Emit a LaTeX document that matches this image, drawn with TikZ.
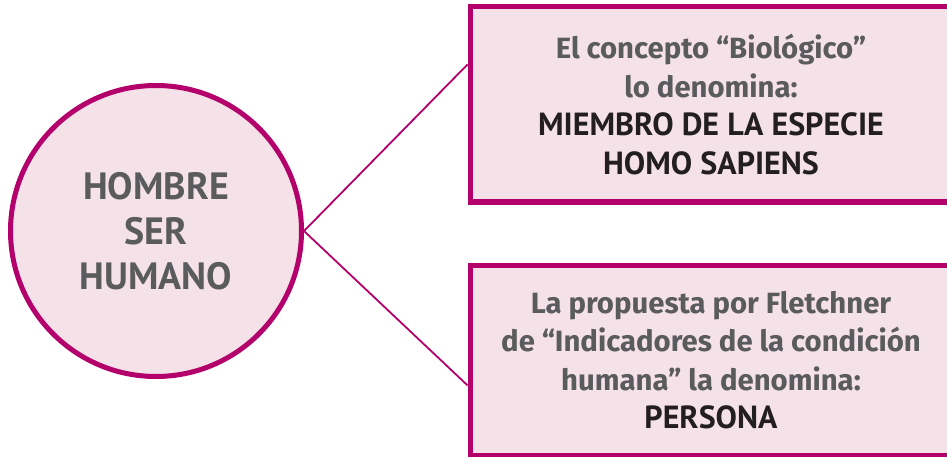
\documentclass[tikz,border=0pt]{standalone}
\usetikzlibrary{calc}
\usepackage{fontspec}
\setmainfont{PT Sans}
\newfontfamily\greyfont{Fira Sans}
\newfontfamily\capfont{PT Sans}
\definecolor{magborder}{HTML}{B3006B}
\definecolor{pinkfill}{HTML}{F5E1E8}
\definecolor{greytext}{HTML}{5A5B5C}
\definecolor{darktext}{HTML}{231F20}
\tikzset{
  greyline/.style={},
}
\newcommand{\gline}[1]{{\greyfont\bfseries\color{greytext}\fontsize{29.3}{38.5}\selectfont #1}}
\newcommand{\bline}[1]{{\capfont\bfseries\color{darktext}\fontsize{32}{38.5}\selectfont #1}}
\begin{document}
\begin{tikzpicture}[x=1pt,y=-1pt,
  bubble/.style={circle,draw=magborder,fill=pinkfill,line width=5pt,minimum size=291pt,inner sep=0pt,
    align=center,text=greytext,font=\capfont\bfseries\fontsize{38}{45}\selectfont},
  infobox/.style={rectangle,draw=magborder,fill=pinkfill,line width=5pt,inner sep=0pt,align=center,
    font=\fontsize{29}{38.5}\selectfont},
  link/.style={draw=magborder,line width=1.8pt}]
\useasboundingbox (0,0) rectangle (947,457);
\clip (0,0) rectangle (947,457);
\node[bubble] (hombre) at (156,231) {HOMBRE\\SER\\HUMANO};
\node[infobox,minimum width=482pt,minimum height=195pt] (bio) at (711,104.5)
  {\gline{El concepto “Biológico”}\\
   \gline{lo denomina:}\\
   \bline{MIEMBRO DE LA ESPECIE}\\
   \bline{HOMO SAPIENS}};
\node[infobox,minimum width=482pt,minimum height=190pt] (fle) at (711,360)
  {\gline{La propuesta por Fletchner}\\
   \gline{de “Indicadores de la condición}\\
   \gline{humana” la denomina:}\\
   \bline{PERSONA}};
\coordinate (bioin) at ($(bio.north west)!0.3!(bio.south west)$);
\coordinate (flein) at ($(fle.north west)!0.63!(fle.south west)$);
\draw[link] (hombre.east) -- (bioin);
\draw[link] (hombre.east) -- (flein);
\end{tikzpicture}
\end{document}
